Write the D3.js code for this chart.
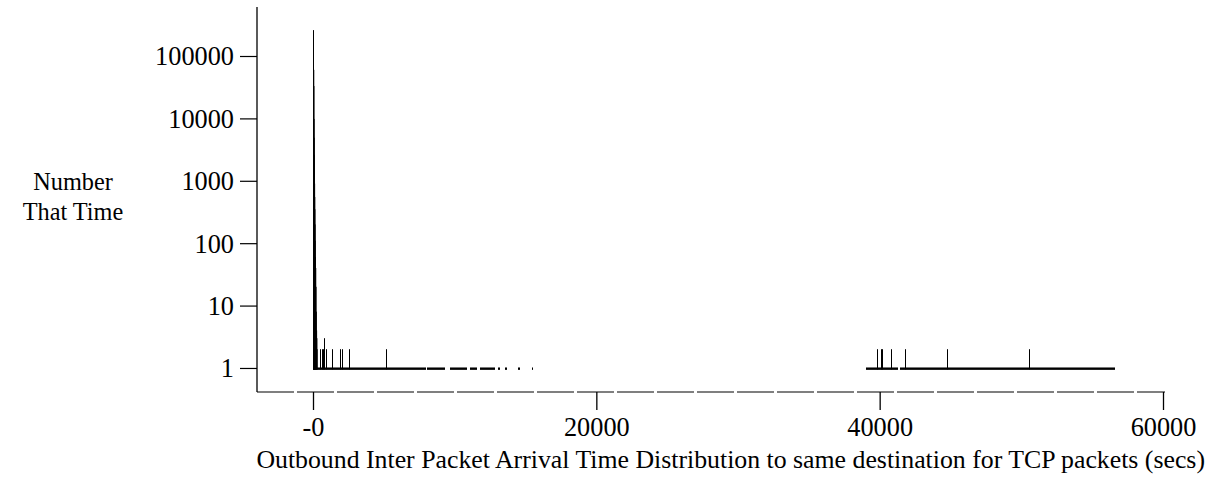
<!DOCTYPE html>
<html>
<head>
<meta charset="utf-8">
<script src="https://cdn.jsdelivr.net/npm/d3@7"></script>
<style>
  html, body { margin: 0; padding: 0; background: #fff; }
  svg text { font-family: "Liberation Serif", "Times New Roman", serif; fill: #000; }
</style>
</head>
<body>
<svg id="chart" width="1219" height="487"></svg>
<script>
// ---- data ----
// dense peak right at zero inter-arrival time: seconds, counts
const headTimes  = [0, 20, 30, 40, 50, 60, 70, 80, 90, 100, 110, 120, 140, 160, 180, 200, 220, 240, 260];
const headCounts = [260000, 60000, 33000, 9800, 4900, 2600, 1500, 900, 550, 350, 200, 110, 60, 40, 20, 8, 4, 3, 2];

// isolated spikes above one occurrence
const spikeTimes  = [494, 600, 680, 776, 917, 1350, 1930, 2030, 2530, 5150,
                     39830, 40060, 40160, 40825, 41760, 44730, 50530];
const spikeCounts = [2, 2, 2, 3, 2, 2, 2, 2, 2, 2,
                     2, 2, 2, 2, 2, 2, 2];

// runs of times seen exactly once (start secs, end secs)
const onceRunStarts = [0, 8040, 9660, 11080, 11790, 13060, 13550, 14460, 15450, 39010, 41420];
const onceRunEnds   = [7970, 9310, 10860, 11570, 12850, 13200, 13690, 14610, 15530, 41270, 56580];

const xTickValues = [0, 20000, 40000, 60000];
const xTickLabels = ["-0", "20000", "40000", "60000"];
const yTickValues = [1, 10, 100, 1000, 10000, 100000];
const yTickLabels = ["1", "10", "100", "1000", "10000", "100000"];

const xTitle = "Outbound Inter Packet Arrival Time Distribution to same destination for TCP packets (secs)";
const yTitle = ["Number", "That Time"];

// ---- drawing ----
const svg = d3.select("#chart");
const plot = { left: 257, right: 1165, top: 7, bottom: 392 };

const x = d3.scaleLinear().domain([-3953, 60141]).range([plot.left, plot.right]);
const y = d3.scaleLog().domain([0.412, 610000]).range([plot.bottom, plot.top]);
const baseValue = 0.95;

const px = v => Math.round(x(v)) + 0.5;

// y axis
const yAxis = d3.axisLeft(y).tickValues(yTickValues)
  .tickFormat((d, i) => yTickLabels[i]).tickSize(17).tickPadding(6);
const gy = svg.append("g").attr("transform", `translate(${plot.left},0)`).call(yAxis);
gy.select(".domain").remove();
gy.selectAll(".tick line").attr("stroke", "#000").attr("stroke-width", 1.2);
gy.selectAll(".tick text").style("font-size", "26.3px").attr("dy", "0.34em");
svg.append("line")
  .attr("x1", plot.left).attr("x2", plot.left)
  .attr("y1", plot.top).attr("y2", plot.bottom)
  .attr("stroke", "#000").attr("stroke-width", 1.3);

// x axis (dashed baseline)
svg.append("line")
  .attr("x1", plot.left).attr("x2", plot.right)
  .attr("y1", plot.bottom).attr("y2", plot.bottom)
  .attr("stroke", "#000").attr("stroke-width", 1.2)
  .attr("stroke-dasharray", "37,3");
const xAxis = d3.axisBottom(x).tickValues(xTickValues)
  .tickFormat((d, i) => xTickLabels[i]).tickSize(18).tickPadding(7);
const gx = svg.append("g").attr("transform", `translate(0,${plot.bottom})`).call(xAxis);
gx.select(".domain").remove();
gx.selectAll(".tick line").attr("stroke", "#000").attr("stroke-width", 1.3);
gx.selectAll(".tick text").style("font-size", "26.3px");

// titles
svg.append("text").attr("x", 1205).attr("y", 468).attr("text-anchor", "end")
  .style("font-size", "25.8px").text(xTitle);
svg.append("text").attr("x", 73).attr("y", 190).attr("text-anchor", "middle")
  .style("font-size", "24.3px").text(yTitle[0]);
svg.append("text").attr("x", 73).attr("y", 220).attr("text-anchor", "middle")
  .style("font-size", "24.3px").text(yTitle[1]);

// single-occurrence runs
const runs = onceRunStarts.map((s, i) => ({ s, e: onceRunEnds[i] }));
svg.append("g").selectAll("rect").data(runs).join("rect")
  .attr("x", d => Math.round(x(d.s)))
  .attr("width", d => Math.max(1, Math.round(x(d.e)) - Math.round(x(d.s))))
  .attr("y", y(1) - 0.5)
  .attr("height", y(baseValue) - y(1) + 1)
  .attr("fill", "#000");

// head bars
const head = headTimes.map((t, i) => ({ t, c: headCounts[i] }));
svg.append("g").selectAll("line").data(head).join("line")
  .attr("x1", d => x(d.t) + 0.5).attr("x2", d => x(d.t) + 0.5)
  .attr("y1", y(baseValue)).attr("y2", d => y(d.c))
  .attr("stroke", "#000").attr("stroke-width", 1);

// spikes
const spikes = spikeTimes.map((t, i) => ({ t, c: spikeCounts[i] }));
svg.append("g").selectAll("line").data(spikes).join("line")
  .attr("x1", d => px(d.t)).attr("x2", d => px(d.t))
  .attr("y1", y(baseValue)).attr("y2", d => y(d.c))
  .attr("stroke", "#000").attr("stroke-width", 1);
</script>
</body>
</html>
